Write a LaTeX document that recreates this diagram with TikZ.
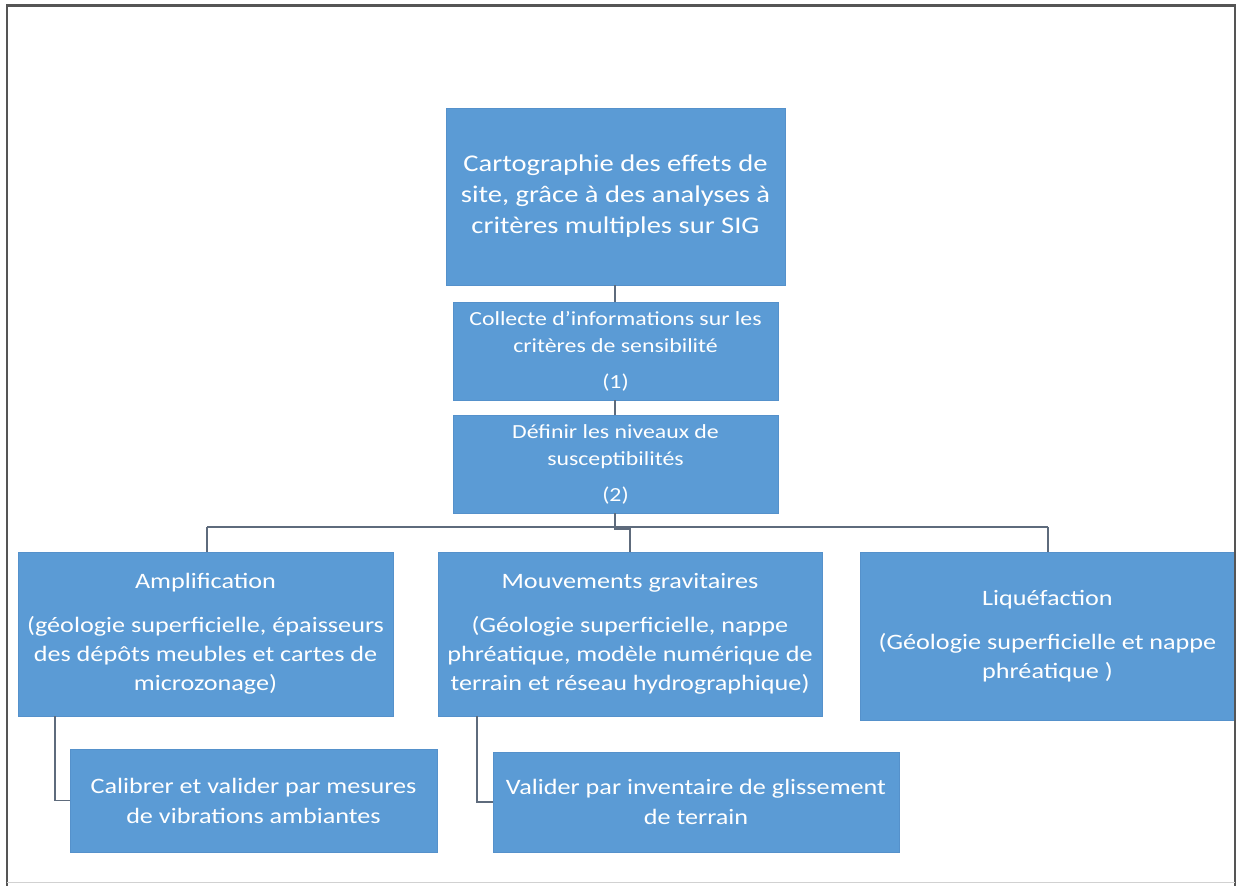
\documentclass[tikz,border=0pt]{standalone}
\usepackage{fontspec}
\setmainfont[FakeStretch=1.19]{Carlito}
\definecolor{boxblue}{HTML}{5B9BD5}
\definecolor{boxedge}{HTML}{5591CB}
\definecolor{linkgray}{HTML}{5E6B7C}
\definecolor{framegray}{HTML}{555555}
\begin{document}
\begin{tikzpicture}[x=1pt,y=-1pt,
  bluebox/.style={fill=boxblue,draw=boxedge,line width=0.8pt,text=white,align=center,inner sep=0pt},
  link/.style={draw=linkgray,line width=1.3pt},
  frameline/.style={draw=framegray,line width=2.5pt}]
\useasboundingbox (0,0) rectangle (1245,886);
\fill[white] (0,0) rectangle (1245,886);

% boxes
\node[bluebox,minimum width=339pt,minimum height=177pt,
  font=\fontsize{24}{31}\selectfont] (top) at (615.5,196.5)
  {Cartographie des effets de\\site, grâce à des analyses à\\critères multiples sur SIG};
\node[bluebox,minimum width=325pt,minimum height=98pt,
  font=\fontsize{20}{27}\selectfont] (c1) at (615.5,351)
  {Collecte d’informations sur les\\critères de sensibilité\\[9pt](1)};
\node[bluebox,minimum width=325pt,minimum height=98pt,
  font=\fontsize{20}{27}\selectfont] (c2) at (615.5,464)
  {Définir les niveaux de\\susceptibilités\\[9pt](2)};
\node[bluebox,minimum width=375pt,minimum height=164pt,
  font=\fontsize{22}{29}\selectfont] (amp) at (205.5,634)
  {Amplification\\[15pt](géologie superficielle, épaisseurs\\des dépôts meubles et cartes de\\microzonage)};
\node[bluebox,minimum width=384pt,minimum height=164pt,
  font=\fontsize{22}{29}\selectfont] (mouv) at (630,634)
  {Mouvements gravitaires\\[15pt](Géologie superficielle, nappe\\phréatique, modèle numérique de\\terrain et réseau hydrographique)};
\node[bluebox,minimum width=375pt,minimum height=168pt,
  font=\fontsize{22}{29}\selectfont] (liq) at (1047.5,636)
  {Liquéfaction\\[15pt](Géologie superficielle et nappe\\phréatique )};
\node[bluebox,minimum width=367pt,minimum height=103pt,
  font=\fontsize{22}{30}\selectfont] (cal) at (253.5,800.5)
  {Calibrer et valider par mesures\\de vibrations ambiantes};
\node[bluebox,minimum width=406pt,minimum height=100pt,
  font=\fontsize{22}{30}\selectfont] (val) at (696,802)
  {Valider par inventaire de glissement\\de terrain};

% connectors
\coordinate (bus) at (615,527);
\coordinate (busL) at (207,527);
\coordinate (busR) at (1048,527);
\coordinate (jog) at (615,529);
\draw[link] (top.south -| bus) -- (c1.north -| bus);
\draw[link] (c1.south -| bus) -- (c2.north -| bus);
\draw[link] (c2.south -| bus) -- (bus);
\draw[link] (busL) -- (busR);
\draw[link] (busL) -- (amp.north -| busL);
\draw[link] (busR) -- (liq.north -| busR);
\draw[link] (bus) -- (jog) -| (mouv.north);
\coordinate (ampdown) at (55,716);
\coordinate (mouvdown) at (477,716);
\draw[link] (amp.south -| ampdown) |- (cal.west);
\draw[link] (mouv.south -| mouvdown) |- (val.west);

% frame
\draw[frameline] (7,886) -- (7,5.5) -- (1235,5.5) -- (1235,886);
\draw[draw=black!18,line width=1pt] (7,882) -- (1235,882);
\end{tikzpicture}
\end{document}
